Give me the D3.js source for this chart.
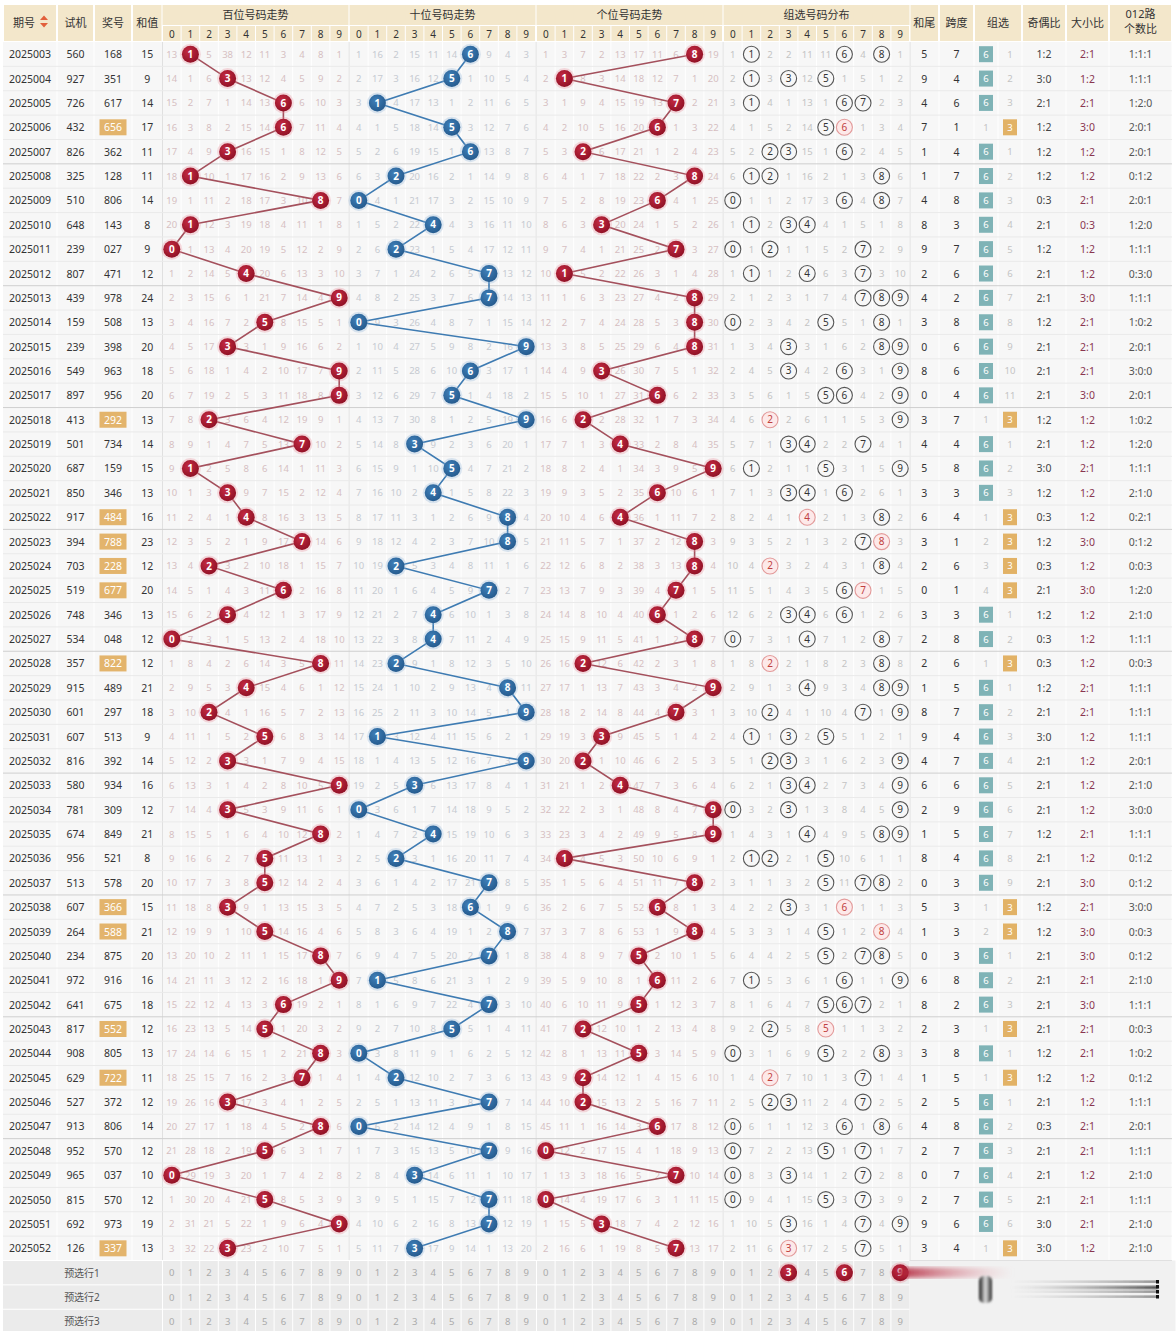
<!DOCTYPE html>
<html>
<head>
<meta charset="utf-8">
<script src="https://cdn.jsdelivr.net/npm/d3@7"></script>
<style>
  body { margin: 0; background: #fff; }
  svg text { font-family: "Noto Sans", "Noto Sans CJK SC", sans-serif; }
</style>
</head>
<body>
<svg id="chart"></svg>
<script>
/* global d3 */
const periods = ['2025003','2025004','2025005','2025006','2025007','2025008','2025009','2025010','2025011','2025012',
  '2025013','2025014','2025015','2025016','2025017','2025018','2025019','2025020','2025021','2025022',
  '2025023','2025024','2025025','2025026','2025027','2025028','2025029','2025030','2025031','2025032',
  '2025033','2025034','2025035','2025036','2025037','2025038','2025039','2025040','2025041','2025042',
  '2025043','2025044','2025045','2025046','2025047','2025048','2025049','2025050','2025051','2025052'];
const testNums = ['560','927','726','432','826','325','510','648','239','807',
  '439','159','239','549','897','413','501','687','850','917',
  '394','703','519','748','534','357','915','601','607','816',
  '580','781','674','956','513','607','264','234','972','641',
  '817','908','629','527','913','952','965','815','692','126'];
const drawNums = ['168','351','617','656','362','128','806','143','027','471',
  '978','508','398','963','956','292','734','159','346','484',
  '788','228','677','346','048','822','489','297','513','392',
  '934','309','849','521','578','366','588','875','916','675',
  '552','805','722','372','806','570','037','570','973','337'];

// omission values shown on the first row (hit cell = 0)
const firstMissBai = [13, 0, 5, 38, 12, 11, 3, 4, 8, 1];
const firstMissShi = [1, 16, 2, 15, 11, 14, 0, 9, 4, 3];
const firstMissGe = [1, 3, 7, 2, 13, 17, 11, 6, 0, 19];
const firstMissZu = [1, 0, 2, 2, 11, 11, 0, 4, 0, 1];
const firstMissGroup = [0, 1]; // 组六, 组三

const digitLabels = ['0','1','2','3','4','5','6','7','8','9'];
const sectionTitles = ['百位号码走势', '十位号码走势', '个位号码走势', '组选号码分布'];
const preLabels = ['预选行1', '预选行2', '预选行3'];
const preHits = [3, 6, 9]; // 预选行1, 组选号码分布

const W = 1176, H = 1331;
const TOP = 42, ROW_H = 24.37;
const RED = '#a91a30', BLUE = '#2d68a0';
const BEIGE = '#f3e7cb';

const svg = d3.select('#chart').attr('width', W).attr('height', H);
const defs = svg.append('defs');

function radial(id, c0, c1) {
  const g = defs.append('radialGradient').attr('id', id).attr('cx', '40%').attr('cy', '35%').attr('r', '70%');
  g.append('stop').attr('offset', '0%').attr('stop-color', c0);
  g.append('stop').attr('offset', '100%').attr('stop-color', c1);
}
radial('gRed', '#c42a42', '#8e1024');
radial('gBlue', '#3f7fb8', '#24598c');
defs.append('filter').attr('id', 'blur2').append('feGaussianBlur').attr('stdDeviation', 2);
defs.append('filter').attr('id', 'blur1').append('feGaussianBlur').attr('stdDeviation', 0.8);
const lg = defs.append('linearGradient').attr('id', 'streak');
lg.append('stop').attr('offset', '0%').attr('stop-color', '#b01c34').attr('stop-opacity', 0.9);
lg.append('stop').attr('offset', '100%').attr('stop-color', '#e8a0a8').attr('stop-opacity', 0);
const lg2 = defs.append('linearGradient').attr('id', 'fadeGray');
lg2.append('stop').attr('offset', '0%').attr('stop-color', '#999').attr('stop-opacity', 0);
lg2.append('stop').attr('offset', '100%').attr('stop-color', '#222').attr('stop-opacity', 0.9);
const lg3 = defs.append('linearGradient').attr('id', 'tube');
lg3.append('stop').attr('offset', '0%').attr('stop-color', '#111');
lg3.append('stop').attr('offset', '50%').attr('stop-color', '#ddd');
lg3.append('stop').attr('offset', '100%').attr('stop-color', '#222');

// ---------- derive rows ----------
function buildRows() {
  let miss = [firstMissBai.slice(), firstMissShi.slice(), firstMissGe.slice(), firstMissZu.slice()];
  let grp = firstMissGroup.slice();
  return periods.map((p, i) => {
    const d = drawNums[i].split('').map(Number);
    const g3 = new Set(d).size === 2;
    if (i > 0) {
      for (let s = 0; s < 3; s++) miss[s] = miss[s].map((v, k) => k === d[s] ? 0 : v + 1);
      miss[3] = miss[3].map((v, k) => d.includes(k) ? 0 : v + 1);
      grp = [g3 ? grp[0] + 1 : 0, g3 ? 0 : grp[1] + 1];
    }
    const sum = d3.sum(d);
    const odd = d.filter(v => v % 2).length;
    const big = d.filter(v => v >= 5).length;
    const r = [0, 1, 2].map(m => d.filter(v => v % 3 === m).length);
    const dup = d.find((v, k) => d.indexOf(v) !== k);
    return {
      period: p, test: testNums[i], num: drawNums[i], d, g3, dup,
      miss: miss.map(m => m.slice()), grp: grp.slice(),
      sum, tail: sum % 10, span: d3.max(d) - d3.min(d),
      oe: `${odd}:${3 - odd}`, bs: `${big}:${3 - big}`, r012: r.join(':')
    };
  });
}
const rows = buildRows();

// ---------- scales ----------
const allRows = [...periods, ...preLabels];
const y = d3.scaleBand().domain(allRows).range([TOP, TOP + allRows.length * ROW_H]);
const cy = p => y(p) + y.bandwidth() / 2;

const SEC_LEFT = 162.5, SEC_W = 186;
const secX = sectionTitles.map((t, k) =>
  d3.scaleBand().domain(digitLabels).range([SEC_LEFT + k * (SEC_W + 1), SEC_LEFT + k * (SEC_W + 1) + SEC_W]));
const cx = (k, digit) => secX[k](String(digit)) + secX[k].bandwidth() / 2;

const leftCols = [
  { key: 'period', label: '期号', x0: 3, x1: 57 },
  { key: 'test', label: '试机', x0: 57, x1: 94 },
  { key: 'num', label: '奖号', x0: 94, x1: 132 },
  { key: 'sum', label: '和值', x0: 132, x1: 162.5 }
];
const rightCols = [
  { key: 'tail', label: '和尾', x0: 909.5, x1: 939 },
  { key: 'span', label: '跨度', x0: 939, x1: 974 },
  { key: 'grp', label: '组选', x0: 974, x1: 1022 },
  { key: 'oe', label: '奇偶比', x0: 1022, x1: 1066 },
  { key: 'bs', label: '大小比', x0: 1066, x1: 1109 },
  { key: 'r012', label: '012路|个数比', x0: 1109, x1: 1172 }
];
const mid = c => (c.x0 + c.x1) / 2;
const bodyTop = TOP, bodyBot = y(preLabels[0]);

// ---------- header ----------
const $head = svg.append('g');
[...leftCols, ...rightCols].forEach(c => {
  $head.append('rect').attr('x', c.x0 + 1).attr('y', 5).attr('width', c.x1 - c.x0 - 2).attr('height', 36).attr('fill', BEIGE);
  const parts = c.label.split('|');
  parts.forEach((t, j) => {
    $head.append('text').attr('x', mid(c) - (c.key === 'period' ? 6 : 0))
      .attr('y', parts.length > 1 ? 18 + j * 15 : 27)
      .attr('text-anchor', 'middle').attr('font-size', 11).attr('fill', '#333').text(t);
  });
});
// sort icon
$head.append('path').attr('d', 'M40,20 L44,15.5 L48,20 Z M40,23 L48,23 L44,27.5 Z').attr('fill', '#e2603c');

sectionTitles.forEach((t, k) => {
  const [a, b] = secX[k].range();
  $head.append('rect').attr('x', a).attr('y', 5).attr('width', b - a).attr('height', 20).attr('fill', BEIGE);
  $head.append('text').attr('x', (a + b) / 2).attr('y', 19).attr('text-anchor', 'middle')
    .attr('font-size', 11).attr('fill', '#333').text(t);
  digitLabels.forEach(dl => {
    $head.append('rect').attr('x', secX[k](dl) + 0.5).attr('y', 26).attr('width', secX[k].bandwidth() - 1)
      .attr('height', 15).attr('fill', BEIGE);
    $head.append('text').attr('x', cx(k, dl)).attr('y', 37.5).attr('text-anchor', 'middle')
      .attr('font-size', 10).attr('fill', '#333').text(dl);
  });
});

// ---------- body grid ----------
const $grid = svg.append('g');
$grid.append('rect').attr('x', 3).attr('y', bodyTop).attr('width', 1169).attr('height', bodyBot - bodyTop).attr('fill', '#f7f7f7');
// vertical cell lines
const vlines = [];
leftCols.forEach(c => vlines.push(c.x1));
secX.forEach(s => digitLabels.forEach(dl => vlines.push(s(dl) + s.bandwidth())));
rightCols.forEach(c => vlines.push(c.x1));
vlines.push(998);
$grid.selectAll('line.v').data(vlines).join('line')
  .attr('x1', d => d).attr('x2', d => d).attr('y1', bodyTop).attr('y2', bodyBot)
  .attr('stroke', '#fff').attr('stroke-width', 1);
const secEdges = [162.5, ...secX.map(s => s.range()[1] + 0.5)];
$grid.selectAll('line.s').data(secEdges).join('line')
  .attr('x1', d => d).attr('x2', d => d).attr('y1', bodyTop).attr('y2', bodyBot)
  .attr('stroke', '#e0e0e0').attr('stroke-width', 1);
// horizontal
$grid.selectAll('line.h').data(periods).join('line')
  .attr('x1', 3).attr('x2', 1172).attr('y1', p => y(p) + ROW_H).attr('y2', p => y(p) + ROW_H)
  .attr('stroke', (p, i) => i % 5 === 4 ? '#cfcfcf' : '#eaeaea').attr('stroke-width', 1);

// ---------- pre-selection rows ----------
const $pre = svg.append('g');
$pre.append('rect').attr('x', 3).attr('y', bodyBot).attr('width', 906.5).attr('height', 3 * ROW_H).attr('fill', '#ebebeb');
$pre.append('rect').attr('x', 909.5).attr('y', bodyBot).attr('width', 266).attr('height', 3 * ROW_H).attr('fill', '#f1f1f1');
preLabels.forEach((lbl, r) => {
  $pre.append('line').attr('x1', 3).attr('x2', 909.5).attr('y1', y(lbl)).attr('y2', y(lbl)).attr('stroke', '#fff');
  $pre.append('text').attr('x', 82).attr('y', cy(lbl) + 4).attr('text-anchor', 'middle')
    .attr('font-size', 10).attr('fill', '#555').text(lbl);
  secX.forEach((s, k) => digitLabels.forEach(dl => {
    $pre.append('line').attr('x1', s(dl)).attr('x2', s(dl)).attr('y1', y(lbl)).attr('y2', y(lbl) + ROW_H).attr('stroke', '#fff');
    const hit = r === 0 && k === 3 && preHits.includes(+dl);
    if (hit) {
      $pre.append('circle').attr('cx', cx(k, dl)).attr('cy', cy(lbl)).attr('r', 10.5).attr('fill', '#e88a98').attr('opacity', 0.35);
      $pre.append('circle').attr('cx', cx(k, dl)).attr('cy', cy(lbl)).attr('r', 8.5).attr('fill', 'url(#gRed)');
    }
    $pre.append('text').attr('x', cx(k, dl)).attr('y', cy(lbl) + 3.5).attr('text-anchor', 'middle')
      .attr('font-size', hit ? 10 : 9.5).attr('font-weight', hit ? 700 : 400)
      .attr('fill', hit ? '#fff' : '#aaa').text(dl);
  }));
  $pre.append('line').attr('x1', 162.5).attr('x2', 162.5).attr('y1', y(lbl)).attr('y2', y(lbl) + ROW_H).attr('stroke', '#fff');
});

// overlay blur artifact bottom right
const $ov = svg.append('g');
$ov.append('rect').attr('x', 898).attr('y', cy(preLabels[0]) - 5).attr('width', 115).attr('height', 10)
  .attr('fill', 'url(#streak)').attr('filter', 'url(#blur2)');
$ov.append('rect').attr('x', 979).attr('y', 1276).attr('width', 13).attr('height', 27).attr('rx', 5)
  .attr('fill', 'url(#tube)').attr('filter', 'url(#blur1)');
[1281, 1286, 1291, 1296].forEach((yy, j) => {
  $ov.append('rect').attr('x', 1010).attr('y', yy).attr('width', 148).attr('height', j === 1 ? 3 : 1.6)
    .attr('fill', 'url(#fadeGray)').attr('filter', 'url(#blur1)');
  $ov.append('rect').attr('x', 1156).attr('y', yy - 1).attr('width', 3).attr('height', 3.5).attr('fill', '#111');
});

// ---------- body data ----------
const $body = svg.append('g');
rows.forEach((r, i) => {
  const yc = cy(r.period);
  // left columns
  $body.append('text').attr('x', mid(leftCols[0])).attr('y', yc + 4).attr('text-anchor', 'middle')
    .attr('font-size', 10.5).attr('fill', '#333').text(r.period);
  $body.append('text').attr('x', mid(leftCols[1])).attr('y', yc + 4).attr('text-anchor', 'middle')
    .attr('font-size', 10.5).attr('fill', '#333').text(r.test);
  if (r.g3) {
    $body.append('rect').attr('x', mid(leftCols[2]) - 13.5).attr('y', yc - 8).attr('width', 27).attr('height', 16)
      .attr('fill', '#e3b46c');
  }
  $body.append('text').attr('x', mid(leftCols[2])).attr('y', yc + 4).attr('text-anchor', 'middle')
    .attr('font-size', 10.5).attr('fill', r.g3 ? '#fff' : '#333').text(r.num);
  $body.append('text').attr('x', mid(leftCols[3])).attr('y', yc + 4).attr('text-anchor', 'middle')
    .attr('font-size', 10.5).attr('fill', '#333').text(r.sum);

  // omission numbers of positional sections
  [0, 1, 2].forEach(k => {
    r.miss[k].forEach((v, dg) => {
      if (dg === r.d[k]) return;
      $body.append('text').attr('x', cx(k, dg)).attr('y', yc + 3.5).attr('text-anchor', 'middle')
        .attr('font-size', 9.5).attr('fill', k === 1 ? '#c6cad1' : '#d6bfc2').text(v);
    });
  });
  // 组选分布
  r.miss[3].forEach((v, dg) => {
    const x = cx(3, dg);
    if (v === 0) {
      const pink = r.g3 && dg === r.dup;
      $body.append('circle').attr('cx', x).attr('cy', yc).attr('r', 8)
        .attr('fill', pink ? '#fde9e9' : 'none').attr('stroke', pink ? '#e39a9a' : '#555').attr('stroke-width', 1.1);
      $body.append('text').attr('x', x).attr('y', yc + 3.5).attr('text-anchor', 'middle')
        .attr('font-size', 10).attr('fill', pink ? '#c04040' : '#333').text(dg);
    } else {
      $body.append('text').attr('x', x).attr('y', yc + 3.5).attr('text-anchor', 'middle')
        .attr('font-size', 9.5).attr('fill', '#c4c4c4').text(v);
    }
  });
  // right columns
  const txt = (c, t, color) => $body.append('text').attr('x', mid(c)).attr('y', yc + 4).attr('text-anchor', 'middle')
    .attr('font-size', 10.5).attr('fill', color).text(t);
  txt(rightCols[0], r.tail, '#333');
  txt(rightCols[1], r.span, '#333');
  txt(rightCols[3], r.oe, '#444');
  txt(rightCols[4], r.bs, '#8a3650');
  txt(rightCols[5], r.r012, '#555');
  const gc = rightCols[2];
  const sub = [gc.x0 + 12, gc.x1 - 12];
  [0, 1].forEach(j => {
    if (r.grp[j] === 0) {
      $body.append('rect').attr('x', sub[j] - 7).attr('y', yc - 8).attr('width', 14).attr('height', 16)
        .attr('fill', j === 0 ? '#7fb3b6' : '#e2b266');
      $body.append('text').attr('x', sub[j]).attr('y', yc + 3.5).attr('text-anchor', 'middle')
        .attr('font-size', 9.5).attr('fill', '#fff').text(j === 0 ? '6' : '3');
    } else {
      $body.append('text').attr('x', sub[j]).attr('y', yc + 3.5).attr('text-anchor', 'middle')
        .attr('font-size', 9.5).attr('fill', '#c4c4c4').text(r.grp[j]);
    }
  });
});

// trend lines and balls
const $trend = svg.append('g');
[0, 1, 2].forEach(k => {
  const color = k === 1 ? BLUE : RED;
  const line = d3.line().x(r => cx(k, r.d[k])).y(r => cy(r.period));
  $trend.append('path').datum(rows).attr('d', line).attr('fill', 'none')
    .attr('stroke', k === 1 ? '#3e7bb2' : '#a4505c').attr('stroke-width', 1.6);
  const $ball = $trend.selectAll(`g.ball${k}`).data(rows).join('g')
    .attr('transform', r => `translate(${cx(k, r.d[k])},${cy(r.period)})`);
  $ball.append('circle').attr('r', 10.5).attr('fill', k === 1 ? '#8fb4d8' : '#e88a98').attr('opacity', 0.3);
  $ball.append('circle').attr('r', 8.5).attr('fill', k === 1 ? 'url(#gBlue)' : 'url(#gRed)');
  $ball.append('text').attr('y', 3.6).attr('text-anchor', 'middle').attr('font-size', 10)
    .attr('font-weight', 700).attr('fill', '#fff').text(r => r.d[k]);
});
</script>
</body>
</html>
